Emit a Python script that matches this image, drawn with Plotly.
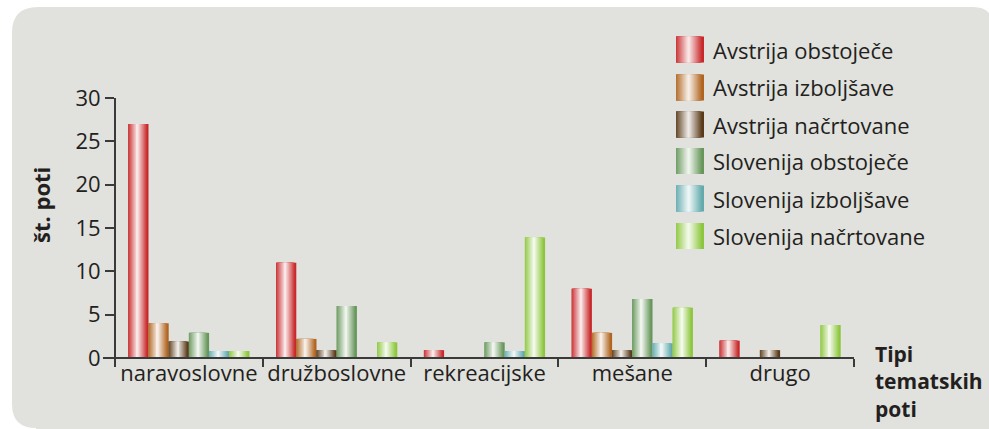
import plotly.graph_objects as go

categories = ["naravoslovne", "družboslovne", "rekreacijske", "mešane", "drugo"]
series_names = ["Avstrija obstoječe", "Avstrija izboljšave", "Avstrija načrtovane",
                "Slovenija obstoječe", "Slovenija izboljšave", "Slovenija načrtovane"]

avstrija_obstojece = [27, 11, 0.9, 8, 2]
avstrija_izboljsave = [4, 2.2, 0, 2.9, 0]
avstrija_nacrtovane = [1.9, 0.9, 0, 0.9, 0.9]
slovenija_obstojece = [2.9, 6, 1.8, 6.8, 0]
slovenija_izboljsave = [0.8, 0, 0.8, 1.7, 0]
slovenija_nacrtovane = [0.8, 1.8, 13.9, 5.8, 3.8]

values = [avstrija_obstojece, avstrija_izboljsave, avstrija_nacrtovane,
          slovenija_obstojece, slovenija_izboljsave, slovenija_nacrtovane]
edge_colors = ["#c8282a", "#b0641f", "#5a3a18", "#66965a", "#62aaac", "#8cc63c"]

W, H = 989, 429
ML, MR, MT, MB = 115, 135, 98, 71
PW, PH = W - ML - MR, H - MT - MB
TXT = "#231f20"
FONT = "Open Sans"
FS = 22


def px(x):
    # window pixel x -> paper fraction
    return (x - ML) / PW


def py(y):
    return (H - MB - y) / PH


def mix(c, f):
    r, g, b = int(c[1:3], 16), int(c[3:5], 16), int(c[5:7], 16)
    r, g, b = [round(v + (255 - v) * f) for v in (r, g, b)]
    return f"rgb({r},{g},{b})"


# nested layers give a horizontal "glossy" gradient
K = 16
CEN, HALF, PEAK, POW = 0.45, 0.5, 0.95, 1.0
layers = []
for k in range(K):
    lev = k / (K - 1)
    h = HALF * (1 - lev ** (1 / POW))
    a, b = max(0.0, CEN - h), min(1.0, CEN + h)
    if k > 0 and b - a < 0.04:
        break
    if k == 0:
        a, b = 0.0, 1.0
    layers.append((a, b, PEAK * lev))

fig = go.Figure()
group = 0.82
bw = group / 6
for i, (vals, col) in enumerate(zip(values, edge_colors)):
    left = -group / 2 + i * bw
    for a, b, f in layers:
        fig.add_trace(go.Bar(x=categories, y=vals, offset=left + a * bw, width=(b - a) * bw,
                             marker=dict(color=mix(col, f), line=dict(width=0)),
                             showlegend=False, hoverinfo="skip"))

shapes = []
# grey rounded panel
L, T, R, B = 12, 7, 993, 428
r1, r2, r3 = 26, 20, 24
pts = [("M", L, B - r3), ("L", L, T + r1), ("Q", L, T, L + r1, T), ("L", R - r2, T),
       ("Q", R, T, R, T + r2), ("L", R, B + 5), ("L", L + r3, B + 5), ("L", L + r3, B),
       ("Q", L, B, L, B - r3)]
path = ""
for p in pts:
    cmd, coords = p[0], p[1:]
    path += cmd + " " + " ".join(
        f"{px(coords[j]):.5f},{py(coords[j + 1]):.5f}" for j in range(0, len(coords), 2)) + " "
path += "Z"
shapes.append(dict(type="path", path=path, xref="paper", yref="paper", layer="below",
                   fillcolor="#e1e1dd", line=dict(width=0)))

# axis lines (extend a bit past the origin like the original)
shapes.append(dict(type="line", xref="paper", yref="paper", x0=0, x1=0, y0=py(366), y1=1,
                   line=dict(color="#3a3a3a", width=2)))
shapes.append(dict(type="line", xref="paper", yref="paper", x0=px(103), x1=1, y0=0, y1=0,
                   line=dict(color="#3a3a3a", width=2)))

# legend swatches
SX, SW, SH = 676, 28, 26
row_y = [49.5, 87.5, 124.5, 161, 198.5, 236]
annotations = []
for name, col, cy in zip(series_names, edge_colors, row_y):
    for a, b, f in layers:
        shapes.append(dict(type="rect", xref="paper", yref="paper",
                           x0=px(SX + a * SW), x1=px(SX + b * SW),
                           y0=py(cy + SH / 2), y1=py(cy - SH / 2),
                           fillcolor=mix(col, f), line=dict(width=0)))
    annotations.append(dict(text=name, x=px(711), y=py(cy), xref="paper", yref="paper",
                            xanchor="left", yanchor="middle", showarrow=False,
                            font=dict(size=FS, color=TXT, family=FONT)))

annotations.append(dict(text="<b>št. poti</b>", x=px(41), y=py(205), xref="paper", yref="paper",
                        textangle=-90, showarrow=False, xanchor="center", yanchor="middle",
                        font=dict(size=FS, color=TXT, family=FONT)))
annotations.append(dict(text="<b>Tipi<br>tematskih<br>poti</b>", x=px(873), y=py(381),
                        xref="paper", yref="paper", xanchor="left", yanchor="middle", align="left",
                        showarrow=False, font=dict(size=FS - 1, color=TXT, family=FONT)))

fig.update_layout(
    width=W, height=H, margin=dict(l=ML, r=MR, t=MT, b=MB, autoexpand=False),
    barmode="overlay", paper_bgcolor="white", plot_bgcolor="rgba(0,0,0,0)",
    font=dict(family=FONT, size=FS, color=TXT),
    shapes=shapes, annotations=annotations, showlegend=False,
    xaxis=dict(type="category", range=[-0.5, 4.5], showgrid=False, zeroline=False,
               showline=False, ticks="outside", tickson="boundaries", ticklen=8,
               tickwidth=2, tickcolor="#3a3a3a", tickangle=0, automargin=False,
               tickfont=dict(size=FS, color=TXT)),
    yaxis=dict(range=[0, 30], tickvals=[0, 5, 10, 15, 20, 25, 30], showgrid=False,
               zeroline=False, showline=False, ticks="outside", ticklen=9, tickwidth=2,
               tickcolor="#3a3a3a", automargin=False, tickfont=dict(size=FS, color=TXT)),
    yaxis2=dict(range=[0, 30], overlaying="y", anchor="x", side="left",
                tickvals=[5, 10, 15, 20, 25, 30], ticks="inside", ticklen=8, tickwidth=2,
                tickcolor="#3a3a3a", showticklabels=False, showgrid=False, zeroline=False,
                showline=False),
)

# drop the default page margin so the figure fills the window exactly
fig.write_html("out.html", config={"displayModeBar": False},
               post_script="document.body.style.margin='0';"
                           "document.body.style.overflow='hidden';")
